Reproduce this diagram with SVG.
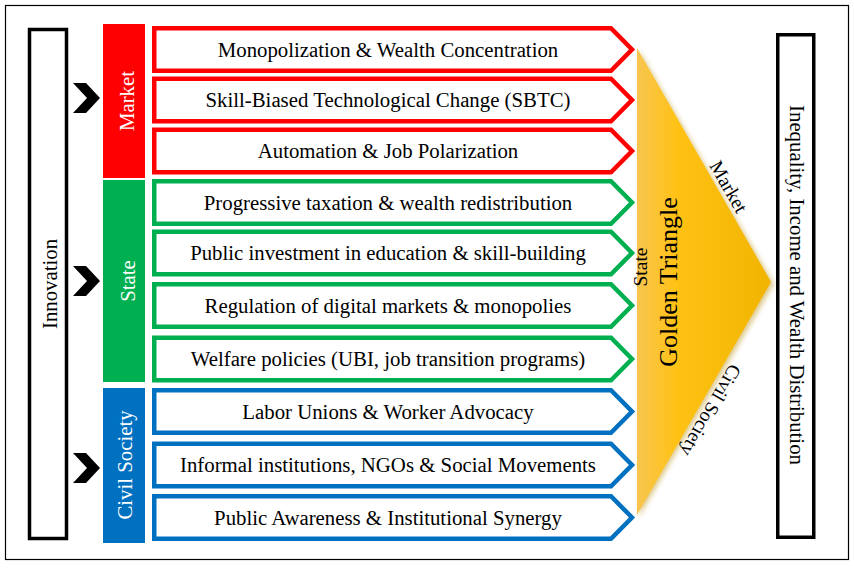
<svg xmlns="http://www.w3.org/2000/svg" width="854" height="570" viewBox="0 0 854 570">
<style>
  .t{font-family:"Liberation Serif","Times New Roman",serif;font-size:20.8px;fill:#000}
  .w{font-family:"Liberation Serif","Times New Roman",serif;font-size:20.8px;fill:#fff}
  .row{fill:#fff;stroke-width:4.5;stroke-linejoin:miter}
  .red{stroke:#FF0000}.green{stroke:#00B050}.blue{stroke:#0070C0}
  .box{fill:#fff;stroke:#000;stroke-width:3.5}
</style>
<defs>
  <linearGradient id="gold" x1="0" y1="0" x2="1" y2="0">
    <stop offset="0" stop-color="#F8C550"/>
    <stop offset="0.3" stop-color="#FFC214"/>
    <stop offset="1" stop-color="#F0B400"/>
  </linearGradient>
  <filter id="sh" x="-20%" y="-20%" width="140%" height="140%">
    <feGaussianBlur stdDeviation="2.5"/>
  </filter>
</defs>
<rect x="0" y="0" width="854" height="570" fill="#fff"/>
<rect x="5.5" y="5.5" width="843" height="554" fill="none" stroke="#000" stroke-width="1.2"/>

<g id="innovation">
  <rect class="box" x="29.5" y="29.5" width="37" height="509"/>
  <text class="t" transform="translate(56.5,284) rotate(-90)" text-anchor="middle">Innovation</text>
</g>

<g id="connectors">
  <polygon points="73,83 86,83 100,98 86,113 73,113 87,98" fill="#000"/>
  <polygon points="73,266 86,266 100,281 86,296 73,296 87,281" fill="#000"/>
  <polygon points="73,453 86,453 100,468 86,483 73,483 87,468" fill="#000"/>
</g>

<g id="market">
  <rect x="103" y="24" width="42" height="154" fill="#FF0000"/>
  <text class="w" transform="translate(133.5,101) rotate(-90)" text-anchor="middle">Market</text>
</g>
<g id="state">
  <rect x="103" y="180" width="42" height="202" fill="#00B050"/>
  <text class="w" transform="translate(134.5,281) rotate(-90)" text-anchor="middle">State</text>
</g>
<g id="civil-society">
  <rect x="103" y="388" width="42" height="155" fill="#0070C0"/>
  <text class="w" transform="translate(131.5,465) rotate(-90)" text-anchor="middle">Civil Society</text>
</g>

<g id="row1"><path class="row red" d="M154.25,28.25 H611 L632,49.5 L611,70.75 H154.25 Z"/><text class="t" x="388" y="56.5" text-anchor="middle">Monopolization &amp; Wealth Concentration</text></g>
<g id="row2"><path class="row red" d="M154.25,78.75 H611 L632,100 L611,121.25 H154.25 Z"/><text class="t" x="388" y="107" text-anchor="middle">Skill-Biased Technological Change (SBTC)</text></g>
<g id="row3"><path class="row red" d="M154.25,129.75 H611 L632,151 L611,172.25 H154.25 Z"/><text class="t" x="388" y="158" text-anchor="middle">Automation &amp; Job Polarization</text></g>
<g id="row4"><path class="row green" d="M154.25,181.25 H611 L632,202.5 L611,223.75 H154.25 Z"/><text class="t" x="388" y="209.5" text-anchor="middle">Progressive taxation &amp; wealth redistribution</text></g>
<g id="row5"><path class="row green" d="M154.25,231.75 H611 L632,253 L611,274.25 H154.25 Z"/><text class="t" x="388" y="260" text-anchor="middle">Public investment in education &amp; skill-building</text></g>
<g id="row6"><path class="row green" d="M154.25,284.25 H611 L632,305.5 L611,326.75 H154.25 Z"/><text class="t" x="388" y="312.5" text-anchor="middle">Regulation of digital markets &amp; monopolies</text></g>
<g id="row7"><path class="row green" d="M154.25,337.75 H611 L632,359 L611,380.25 H154.25 Z"/><text class="t" x="388" y="366" text-anchor="middle">Welfare policies (UBI, job transition programs)</text></g>
<g id="row8"><path class="row blue" d="M154.25,390.25 H611 L632,411.5 L611,432.75 H154.25 Z"/><text class="t" x="388" y="418.5" text-anchor="middle">Labor Unions &amp; Worker Advocacy</text></g>
<g id="row9"><path class="row blue" d="M154.25,443.75 H611 L632,465 L611,486.25 H154.25 Z"/><text class="t" x="388" y="472" text-anchor="middle">Informal institutions, NGOs &amp; Social Movements</text></g>
<g id="row10"><path class="row blue" d="M154.25,496.25 H611 L632,517.5 L611,538.75 H154.25 Z"/><text class="t" x="388" y="524.5" text-anchor="middle">Public Awareness &amp; Institutional Synergy</text></g>

<g id="golden-triangle">
  <polygon points="639,50 774,284 639,517" fill="#B88A00" opacity="0.45" filter="url(#sh)"/>
  <polygon points="637,48 771,282 637,515" fill="url(#gold)"/>
  <text class="t" style="font-size:26px" transform="translate(677,282) rotate(-90)" text-anchor="middle">Golden Triangle</text>
  <text class="t" style="font-size:19.5px" transform="translate(647,267) rotate(-90)" text-anchor="middle">State</text>
  <text class="t" style="font-size:19.5px" transform="translate(723,190) rotate(60)" text-anchor="middle">Market</text>
  <text class="t" style="font-size:19.5px" transform="translate(705,407) rotate(120)" text-anchor="middle">Civil Society</text>
</g>

<g id="outcome">
  <rect class="box" x="777.75" y="34.75" width="36" height="502.5"/>
  <text class="t" transform="translate(789.5,285) rotate(90)" text-anchor="middle">Inequality, Income and Wealth Distribution</text>
</g>
</svg>
